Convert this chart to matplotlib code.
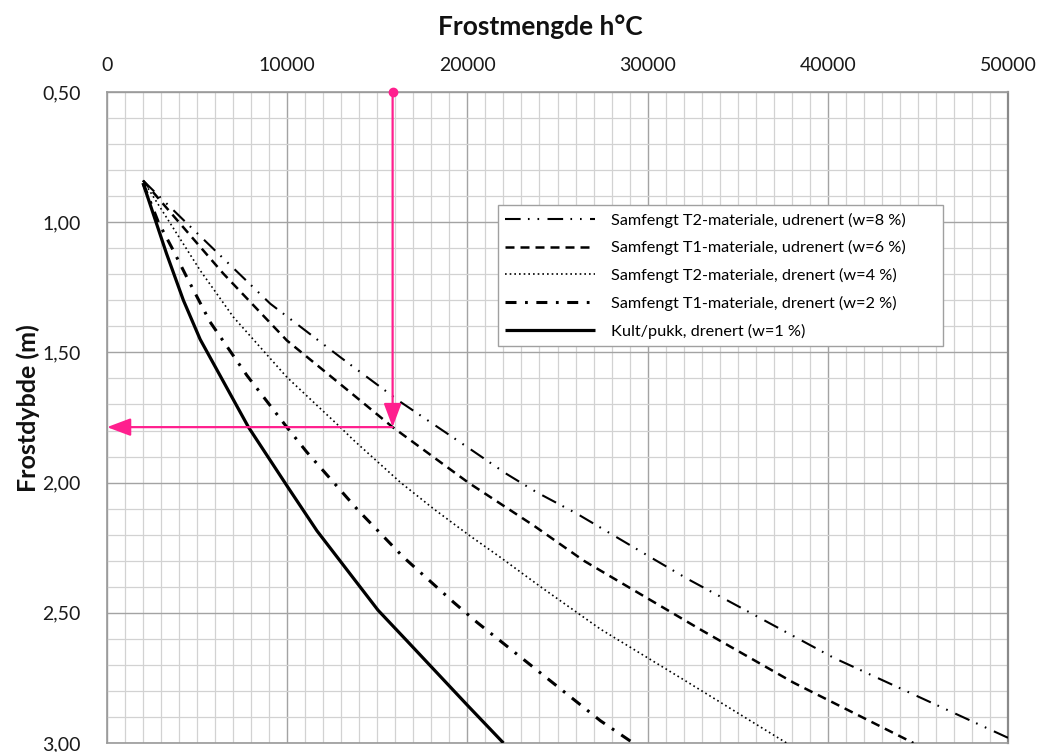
import matplotlib
matplotlib.use('Agg')
import matplotlib.pyplot as plt
from matplotlib.ticker import MultipleLocator, FuncFormatter

plt.rcParams['font.family'] = ['Lato', 'DejaVu Sans']

# ---------------- data ----------------
labels = [
    "Samfengt T2-materiale, udrenert (w=8 %)",
    "Samfengt T1-materiale, udrenert (w=6 %)",
    "Samfengt T2-materiale, drenert (w=4 %)",
    "Samfengt T1-materiale, drenert (w=2 %)",
    "Kult/pukk, drenert (w=1 %)",
]

t2_udren_x = [2000, 4220, 9060, 12940, 16280, 20150, 22180, 23840, 26090, 30170, 32220, 40330, 49780, 50000]
t2_udren_y = [0.84, 0.99, 1.313, 1.518, 1.69, 1.871, 1.967, 2.037, 2.12, 2.287, 2.37, 2.673, 2.973, 2.98]

t1_udren_x = [2000, 4240, 6450, 9980, 14060, 15850, 20050, 23680, 26460, 27560, 33000, 38090, 44750]
t1_udren_y = [0.84, 1.02, 1.197, 1.454, 1.685, 1.787, 2.0, 2.165, 2.30, 2.345, 2.567, 2.768, 3.0]

t2_dren_x = [2000, 5170, 7010, 9980, 12940, 13700, 16280, 18130, 20050, 21830, 24060, 27390, 32000, 37710]
t2_dren_y = [0.84, 1.185, 1.364, 1.595, 1.787, 1.838, 1.999, 2.101, 2.20, 2.287, 2.40, 2.563, 2.757, 3.0]

t1_dren_x = [2000, 2850, 3690, 4420, 5720, 7760, 9980, 11090, 13960, 16460, 19240, 20540, 27390, 29200]
t1_dren_y = [0.85, 1.00, 1.11, 1.21, 1.383, 1.588, 1.787, 1.883, 2.108, 2.287, 2.46, 2.537, 2.915, 3.0]

kult_x = [2000, 3300, 4240, 5170, 7850, 10040, 11650, 15040, 16650, 20000, 22000]
kult_y = [0.85, 1.12, 1.30, 1.45, 1.787, 2.018, 2.185, 2.49, 2.608, 2.855, 3.0]

# reading example (pink arrows)
example_x = 15850
example_y = 1.787
example_top = 0.50

x_limits = (0, 50000)
y_limits = (3.0, 0.5)

# ---------------- figure ----------------
fig = plt.figure(figsize=(10.4, 7.52), dpi=100)
ax = fig.add_axes([107/1040, 1 - 743/752, 901/1040, 651/752])
ax.set_xlim(*x_limits)
ax.set_ylim(*y_limits)

ax.xaxis.tick_top()
ax.xaxis.set_major_locator(MultipleLocator(10000))
ax.xaxis.set_minor_locator(MultipleLocator(1000))
ax.yaxis.set_major_locator(MultipleLocator(0.5))
ax.yaxis.set_minor_locator(MultipleLocator(0.1))
ax.yaxis.set_major_formatter(FuncFormatter(lambda v, p: f"{v:.2f}".replace('.', ',')))
ax.xaxis.set_major_formatter(FuncFormatter(lambda v, p: f"{int(round(v))}"))
ax.tick_params(which='both', length=0)
ax.tick_params(axis='x', labelsize=14, pad=13, labelcolor='#1a1a1a')
ax.tick_params(axis='y', labelsize=14, pad=19, labelcolor='#1a1a1a')

ax.grid(which='minor', color='#d2d2d2', lw=0.9)
ax.grid(which='major', color='#a3a3a3', lw=1.0)
ax.set_axisbelow(True)
for s in ax.spines.values():
    s.set_color('#9a9a9a')
    s.set_linewidth(1.2)
ax.spines['right'].set_color('#8a8a8a')
ax.spines['right'].set_linewidth(1.6)

styles = [
    dict(lw=1.5, ls=(0, (7.5, 3.5, 0.8, 3.8, 0.8, 4.0))),
    dict(lw=1.8, ls=(0, (3.6, 2.4))),
    dict(lw=1.2, ls=(0, (1.0, 1.8))),
    dict(lw=2.2, ls=(0, (3.6, 2.8, 0.9, 2.8))),
    dict(lw=2.3, ls='-'),
]
series = [(t2_udren_x, t2_udren_y), (t1_udren_x, t1_udren_y),
          (t2_dren_x, t2_dren_y), (t1_dren_x, t1_dren_y), (kult_x, kult_y)]

handles = []
for (xs, ys), st, lab in zip(series, styles, labels):
    ln, = ax.plot(xs, ys, color='black', linewidth=st['lw'], linestyle=st['ls'],
                  label=lab, zorder=3, solid_capstyle='butt')
    handles.append(ln)

leg = ax.legend(handles=handles, loc='upper left',
                bbox_to_anchor=(0.434, 0.612, 0.494, 0.214), mode='expand',
                frameon=True, fancybox=False, framealpha=1, edgecolor='#a0a0a0',
                fontsize=11.7, handlelength=5.5, handletextpad=1.0,
                labelspacing=0.78, borderpad=0.45, borderaxespad=0)
leg.get_frame().set_linewidth(1.0)

# pink reading example
pink = '#ff1f8e'
ax.plot([example_x], [example_top], 'o', color=pink, ms=6, clip_on=False, zorder=6)
ax.annotate('', xy=(example_x, example_y), xytext=(example_x, example_top),
            arrowprops=dict(arrowstyle='-|>,head_length=1.2,head_width=0.45',
                            color=pink, lw=1.6, mutation_scale=12,
                            shrinkA=0, shrinkB=0), zorder=6)
ax.annotate('', xy=(x_limits[0], example_y), xytext=(example_x, example_y),
            arrowprops=dict(arrowstyle='-|>,head_length=1.2,head_width=0.45',
                            color=pink, lw=1.6, mutation_scale=12,
                            shrinkA=0, shrinkB=0), zorder=6)

# titles
fig.text(540/1040, 1 - 35/752, "Frostmengde h\u00b0C", ha='center', va='baseline',
         fontsize=19, fontweight='bold', color='#111111')
fig.text(28/1040, 1 - 408/752, "Frostdybde (m)", ha='center', va='center',
         rotation=90, fontsize=18, fontweight='bold', color='#111111')

fig.savefig('out.png', dpi=100)
